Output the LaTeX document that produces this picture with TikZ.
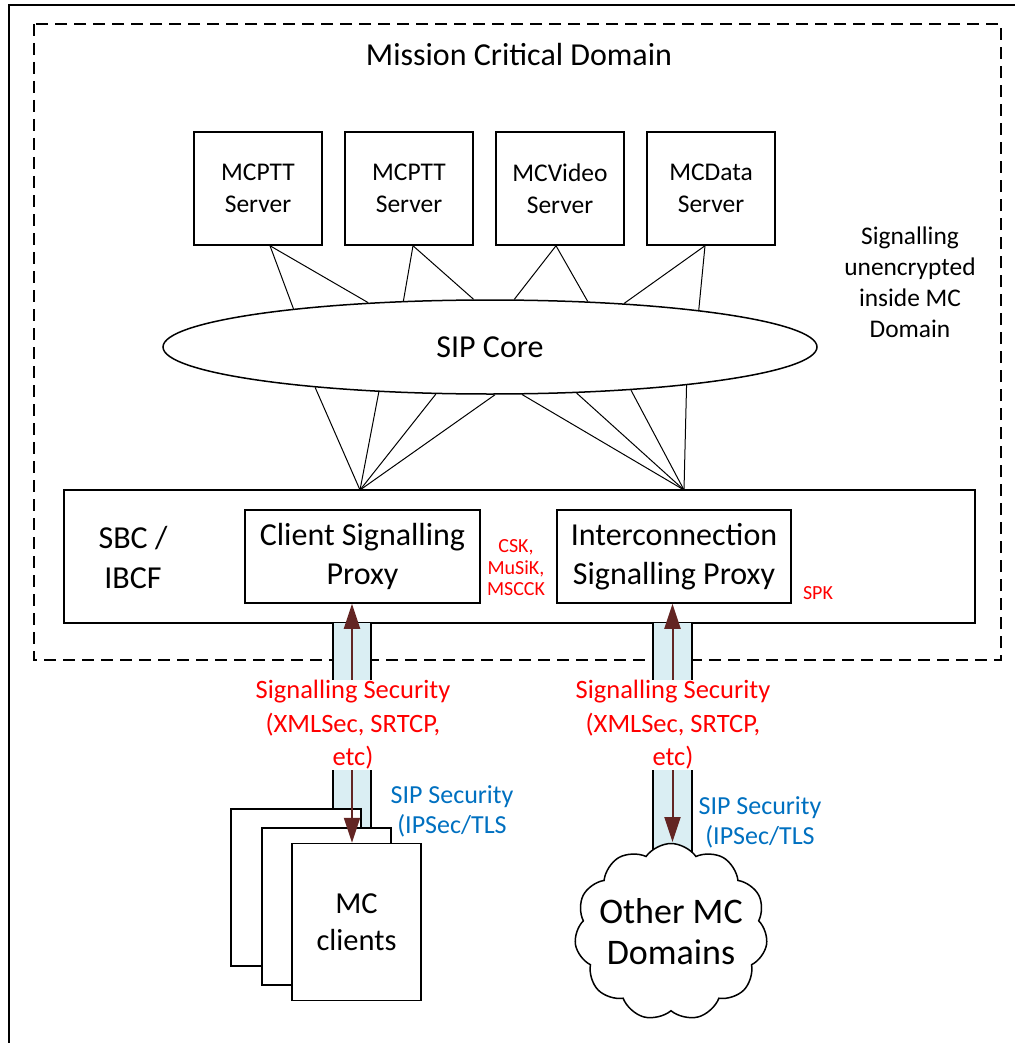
\documentclass[tikz,border=0pt]{standalone}
\usepackage{fontspec}
\setmainfont{Carlito}
\usetikzlibrary{arrows.meta,shapes.geometric,shapes.symbols}
\definecolor{keyred}{RGB}{255,0,0}
\definecolor{sipblue}{RGB}{0,112,192}
\definecolor{tubefill}{RGB}{218,238,243}
\definecolor{arrowbrown}{RGB}{99,37,35}
\tikzset{
  fs/.style 2 args={font=\fontsize{#1}{#2}\selectfont},
  serverbox/.style={draw, line width=1.5pt, minimum width=128pt, minimum height=113pt, inner sep=0pt, align=center, fs={25.5}{32}},
  proxybox/.style={draw, line width=1.5pt, minimum height=93pt, inner sep=0pt, align=center, fs={32}{39}},
  clientbox/.style={draw, line width=1.5pt, fill=white, minimum width=129pt, minimum height=157pt, inner sep=0pt, align=center, fs={30.5}{37}},
  link/.style={line width=1pt},
  tubeside/.style={line width=1.5pt},
  secarrow/.style={line width=2pt, draw=arrowbrown, arrowbrown, {Triangle[width=16pt,length=25pt]}-{Triangle[width=16pt,length=25pt]}},
  seclabel/.style={text=keyred, fill=white, inner sep=0pt, align=center, fs={26.5}{33.5}},
  siplabel/.style={text=sipblue, inner sep=0pt, align=center, fs={26}{30}},
}
\begin{document}
\begin{tikzpicture}[x=1pt,y=-1pt]
\useasboundingbox (0,0) rectangle (1015,1043);
% outer frame (partially visible)
\draw[line width=1.5pt] (9,1043) -- (9,5) -- (1015,5);
% mission critical domain
\draw[line width=1.5pt, dash pattern=on 12pt off 7pt] (34,24) rectangle (1001,660);
\node[fs={32}{36}] (title) at (519,55) {Mission Critical Domain};
% servers
\node[serverbox] (s1) at (258,188.5) {MCPTT\\Server};
\node[serverbox] (s2) at (409,188.5) {MCPTT\\Server};
\node[serverbox] (s3) at (560,188.5) {MCVideo\\Server};
\node[serverbox] (s4) at (711,188.5) {MCData\\Server};
\node[align=center, fs={25.4}{31}] (note) at (910,282) {Signalling\\unencrypted\\inside MC\\Domain};
% SIP core
\node[draw, ellipse, line width=1.5pt, minimum width=654pt, minimum height=94pt, inner sep=0pt, fs={32}{36}] (core) at (490,347) {SIP Core};
% server to core links
\draw[link] ([xshift=12pt]s1.south) -- (core.169.1);
\draw[link] ([xshift=12pt]s1.south) -- (core.160.2);
\draw[link] ([xshift=4pt]s2.south) -- (core.152.2);
\draw[link] ([xshift=4pt]s2.south) -- (core.109.9);
\draw[link] ([xshift=-4pt]s3.south) -- (core.63.9);
\draw[link] ([xshift=-4pt]s3.south) -- (core.25.6);
\draw[link] ([xshift=-6pt]s4.south) -- (core.18.2);
\draw[link] ([xshift=-6pt]s4.south) -- (core.10);
% SBC
\node[draw, line width=1.5pt, minimum width=911pt, minimum height=133pt, inner sep=0pt] (sbc) at (519.5,556.5) {};
\node[align=center, fs={32}{40}] (sbclabel) at (133,557) {SBC /\\IBCF};
\node[proxybox, minimum width=235pt] (csp) at (362.5,556.5) {Client Signalling\\Proxy};
\node[proxybox, minimum width=234pt] (isp) at (674,556.5) {Interconnection\\Signalling Proxy};
\node[text=keyred, align=center, inner sep=0pt, fs={20}{21.5}] (keys) at (516,568) {CSK,\\MuSiK,\\MSCCK};
\node[text=keyred, inner sep=0pt, fs={20}{22}] (spk) at (818,593) {SPK};
% apexes on SBC
\coordinate (apL) at (360,490);
\coordinate (apR) at (684,490);
\foreach \a in {193.5,202.4,221,276} \draw[link] (apL) -- (core.\a);
\foreach \a in {304.2,332.1,343.6,349.5} \draw[link] (apR) -- (core.\a);
% tubes
\node[fill=tubefill, minimum width=38pt, minimum height=205pt, inner sep=0pt] (tubeL) at (352,725.5) {};
\draw[tubeside] (tubeL.north west) -- (tubeL.south west);
\draw[tubeside] (tubeL.north east) -- (tubeL.south east);
\node[fill=tubefill, minimum width=39pt, minimum height=232pt, inner sep=0pt] (tubeR) at (672.5,739) {};
\draw[tubeside] (tubeR.north west) -- (tubeR.south west);
\draw[tubeside] (tubeR.north east) -- (tubeR.south east);
% clients
\node[clientbox, minimum width=130pt] (cl1) at (296,887.5) {};
\node[clientbox] (cl2) at (326.5,906.5) {};
\node[clientbox] (cl3) at (356.5,922) {MC\\clients};
% cloud
\node[cloud, draw, fill=white, line width=1.5pt, cloud puffs=11, cloud puff arc=110, minimum width=193pt, minimum height=177pt, inner sep=0pt] (cloud) at (671,932) {};
\node[align=center, fs={36}{41}] (cloudtext) at (cloud.center) {Other MC\\Domains};
% arrows
\draw[secarrow] (tubeL.center |- csp.south) -- (tubeL.center |- cl3.north);
\draw[secarrow] (tubeR.center |- isp.south) -- (672.5,842);
% labels
\node[seclabel] (secL) at (353,725) {Signalling Security\\(XMLSec, SRTCP,\\etc)};
\node[seclabel] (secR) at (673,725) {Signalling Security\\(XMLSec, SRTCP,\\etc)};
\node[siplabel] (sipL) at (452,811) {SIP Security\\(IPSec/TLS};
\node[siplabel] (sipR) at (760,822) {SIP Security\\(IPSec/TLS};
\end{tikzpicture}
\end{document}
